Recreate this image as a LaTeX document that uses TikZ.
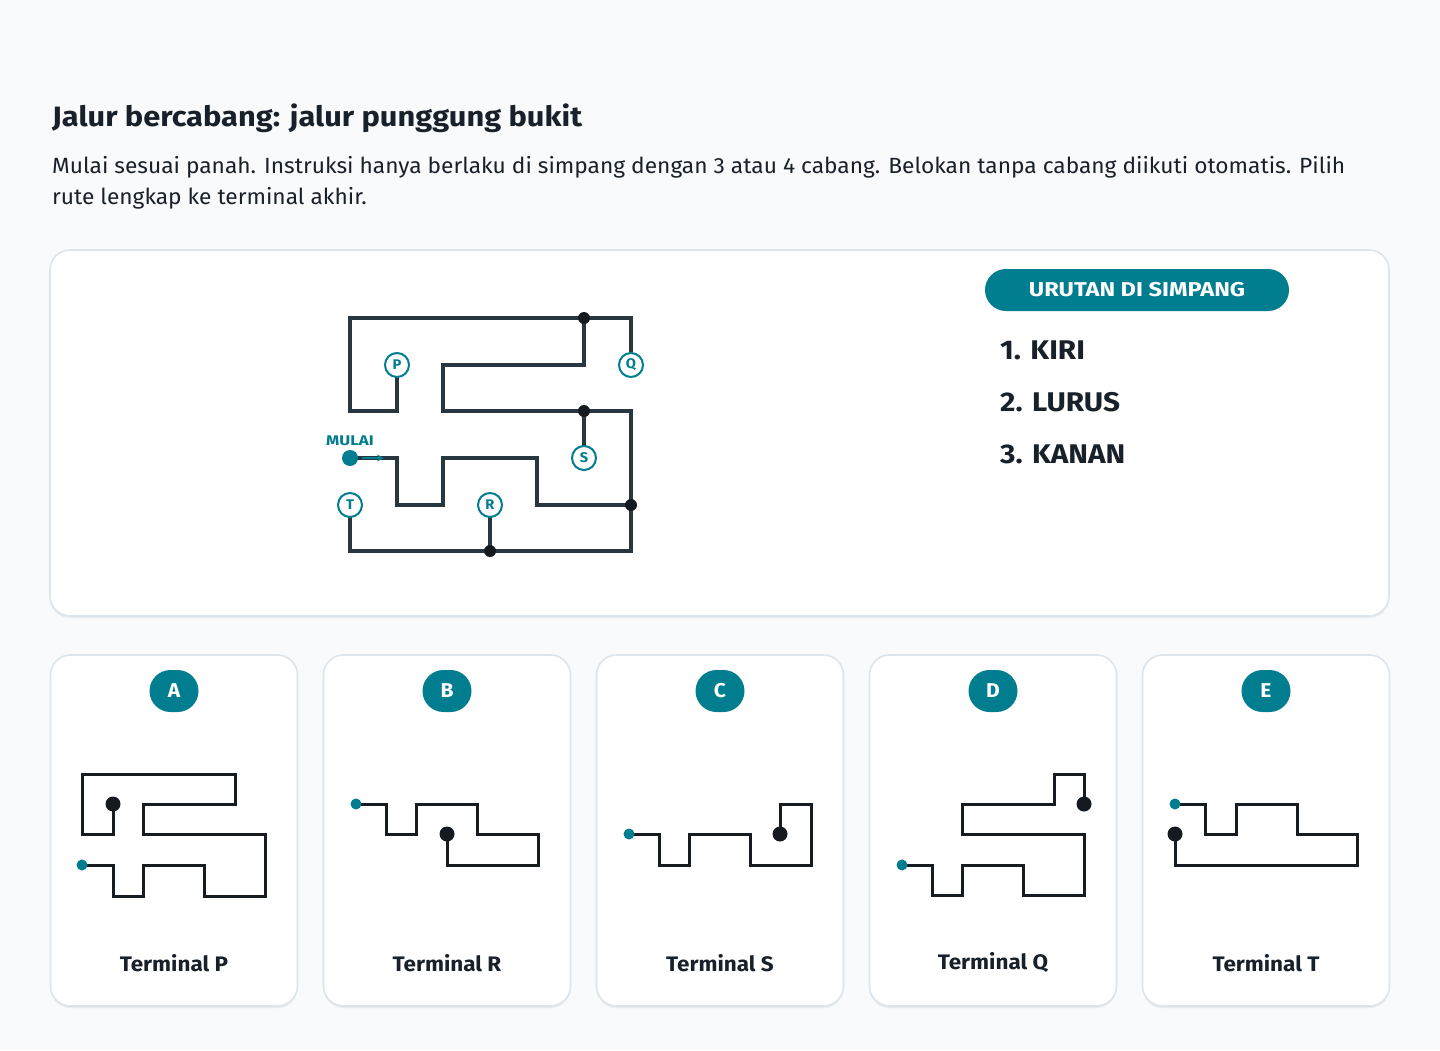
\documentclass[tikz,border=0pt]{standalone}
\usepackage{fontspec}
\setmainfont{Fira Sans}[Numbers=Lining]
\usetikzlibrary{arrows.meta}
\definecolor{bgc}{HTML}{F8FAFC}
\definecolor{inkc}{HTML}{18202A}
\definecolor{tealc}{HTML}{007D8F}
\definecolor{mazec}{HTML}{27363F}
\definecolor{dotc}{HTML}{141A20}
\definecolor{cardline}{HTML}{161C22}
\definecolor{borderc}{HTML}{DCE5EB}
\definecolor{shadowc}{HTML}{E6ECF0}
\newcommand{\strf}[1]{\addfontfeatures{FakeStretch=#1}}
\begin{document}
\begin{tikzpicture}[x=1pt,y=-1pt,
  panel/.style={draw=borderc, line width=1.6, fill=white, rounded corners=20},
  shadowbox/.style={fill=shadowc, rounded corners=20},
  maze/.style={draw=mazec, line width=4, line join=miter},
  junc/.style={circle, fill=dotc, inner sep=0, minimum size=12},
  term/.style={circle, draw=tealc, line width=2, fill=white, inner sep=0, minimum size=24, text=tealc, font=\bfseries\fontsize{14}{16}\selectfont\strf{1.05}},
  badge/.style={fill=tealc, rounded corners=21, minimum width=49, minimum height=42, inner sep=0, text=white, font=\bfseries\fontsize{20}{24}\selectfont\strf{1.05}},
  cpath/.style={draw=cardline, line width=3, line join=miter},
  cstart/.style={circle, fill=tealc, inner sep=0, minimum size=11},
  cend/.style={circle, fill=dotc, inner sep=0, minimum size=15},
  listitem/.style={anchor=west, inner sep=0, text=inkc, font=\bfseries\fontsize{27}{32}\selectfont\strf{1.1}},
  tlabel/.style={text=inkc, font=\bfseries\fontsize{21}{25}\selectfont\strf{1.07}}
]
\fill[bgc] (0,0) rectangle (1440,1050);
\useasboundingbox (0,0) rectangle (1440,1050);

% heading
\node[anchor=base west, inner sep=0, text=inkc, font=\bfseries\fontsize{28}{34}\selectfont\strf{1.1}] (title) at (52,126) {Jalur bercabang: jalur punggung bukit};
\node[anchor=base west, inner sep=0, text=inkc, font=\fontsize{22}{28}\selectfont\strf{1.033}] (sub1) at (52,173) {Mulai sesuai panah. Instruksi hanya berlaku di simpang dengan 3 atau 4 cabang. Belokan tanpa cabang diikuti otomatis. Pilih};
\node[anchor=base west, inner sep=0, text=inkc, font=\fontsize{22}{28}\selectfont\strf{1.033}] (sub2) at (52,204) {rute lengkap ke terminal akhir.};

% main panel
\fill[shadowbox] (50,252) rectangle (1389,618);
\draw[panel] (50,250) rectangle (1389,616);

% maze grid
\def\cA{350}\def\cB{397}\def\cC{443}\def\cD{490}\def\cE{537}\def\cF{584}\def\cG{631}
\def\rA{318}\def\rB{365}\def\rC{411}\def\rD{458}\def\rE{505}\def\rF{551}

\draw[maze] (\cB,\rB) -- (\cB,\rC) -- (\cA,\rC) -- (\cA,\rA) -- (\cG,\rA) -- (\cG,\rB);
\draw[maze] (\cF,\rA) -- (\cF,\rB) -- (\cC,\rB) -- (\cC,\rC) -- (\cG,\rC) -- (\cG,\rF) -- (\cA,\rF) -- (\cA,\rE);
\draw[maze] (\cF,\rC) -- (\cF,\rD);
\draw[maze] (\cD,\rF) -- (\cD,\rE);
\draw[maze] (\cA,\rD) -- (\cB,\rD) -- (\cB,\rE) -- (\cC,\rE) -- (\cC,\rD) -- (\cE,\rD) -- (\cE,\rE) -- (\cG,\rE);

\node[junc] (j1) at (\cF,\rA) {};
\node[junc] (j2) at (\cF,\rC) {};
\node[junc] (j3) at (\cG,\rE) {};
\node[junc] (j4) at (\cD,\rF) {};

\node[term] (P) at (\cB,\rB) {P};
\node[term] (Q) at (\cG,\rB) {Q};
\node[term] (S) at (\cF,\rD) {S};
\node[term] (T) at (\cA,\rE) {T};
\node[term] (R) at (\cD,\rE) {R};

\node[circle, fill=tealc, inner sep=0, minimum size=16] (start) at (\cA,\rD) {};
\coordinate (arrA) at (362,\rD);
\coordinate (arrB) at (384,\rD);
\draw[tealc, line width=1.8, -{Stealth[length=7,width=7]}] (arrA) -- (arrB);
\node[text=tealc, inner sep=0, font=\bfseries\fontsize{14}{16}\selectfont\strf{1.2}] (mulai) at (350,441) {MULAI};

% order list
\node[fill=tealc, rounded corners=21, minimum width=304, minimum height=42, inner sep=0, text=white, font=\bfseries\fontsize{20}{24}\selectfont\strf{1.18}] (hdr) at (1137,290) {URUTAN DI SIMPANG};
\node[listitem] (l1) at (1000,350) {1. KIRI};
\node[listitem] (l2) at (1000,402) {2. LURUS};
\node[listitem] (l3) at (1000,454) {3. KANAN};

% cards
\foreach \cx/\L/\T in {174/A/P, 447/B/R, 720/C/S, 993/D/Q, 1266/E/T}{
  \fill[shadowbox] (\cx-123.5,657) rectangle (\cx+123.5,1008);
  \draw[panel] (\cx-123.5,655) rectangle (\cx+123.5,1006);
  \node[badge] (badge\L) at (\cx,691) {\L};
  \node[tlabel] (lab\L) at (\cx,963) {Terminal \T};
}

% card A
\draw[cpath] (82,865) -- (113,865) -- (113,896) -- (143,896) -- (143,865) -- (204,865) -- (204,896) -- (265,896) -- (265,834) -- (143,834) -- (143,804) -- (235,804) -- (235,774) -- (82,774) -- (82,834) -- (113,834) -- (113,804);
\node[cstart] (sA) at (82,865) {};
\node[cend] (eA) at (113,804) {};

% card B
\draw[cpath] (356,804) -- (386,804) -- (386,834) -- (416,834) -- (416,804) -- (477,804) -- (477,834) -- (538,834) -- (538,865) -- (447,865) -- (447,834);
\node[cstart] (sB) at (356,804) {};
\node[cend] (eB) at (447,834) {};

% card C
\draw[cpath] (629,834) -- (659,834) -- (659,865) -- (689,865) -- (689,834) -- (750,834) -- (750,865) -- (811,865) -- (811,804) -- (780,804) -- (780,834);
\node[cstart] (sC) at (629,834) {};
\node[cend] (eC) at (780,834) {};

% card D
\draw[cpath] (902,865) -- (932,865) -- (932,895) -- (962,895) -- (962,865) -- (1023,865) -- (1023,895) -- (1084,895) -- (1084,834) -- (962,834) -- (962,804) -- (1054,804) -- (1054,774) -- (1084,774) -- (1084,804);
\node[cstart] (sD) at (902,865) {};
\node[cend] (eD) at (1084,804) {};

% card E
\draw[cpath] (1175,804) -- (1205,804) -- (1205,834) -- (1236,834) -- (1236,804) -- (1297,804) -- (1297,834) -- (1357,834) -- (1357,865) -- (1175,865) -- (1175,834);
\node[cstart] (sE) at (1175,804) {};
\node[cend] (eE) at (1175,834) {};
\end{tikzpicture}
\end{document}
